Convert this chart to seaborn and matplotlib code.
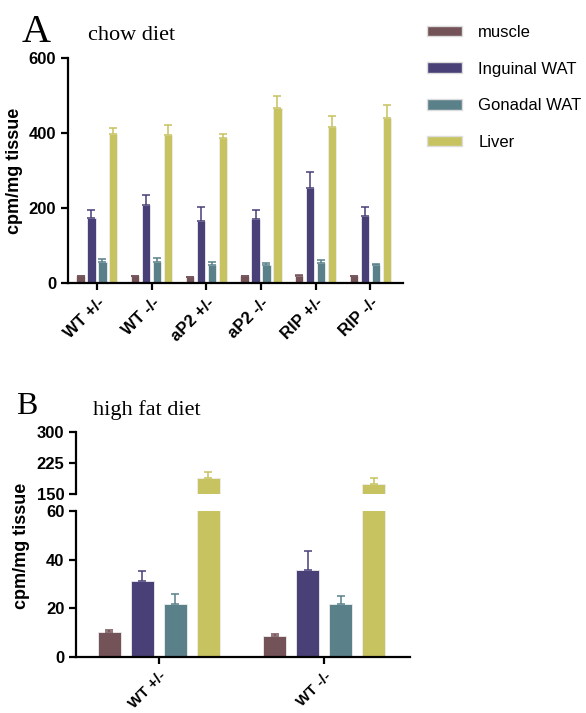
import numpy as np
import pandas as pd
import matplotlib.pyplot as plt
import seaborn as sns
from matplotlib.patches import Patch

# данные
tissues = ["muscle", "Inguinal WAT", "Gonadal WAT", "Liver"]
colors = ["#735258", "#4a4078", "#5a808a", "#c7c360"]

chow_groups = ["WT +/-", "WT -/-", "aP2 +/-", "aP2 -/-", "RIP +/-", "RIP -/-"]
chow_muscle = [18, 18, 16, 19, 20, 19]
chow_muscle_err = [1, 1, 1, 1, 1.5, 1]
chow_inguinal = [173, 209, 164, 171, 253, 178]
chow_inguinal_err = [22, 26, 39, 24, 43, 25]
chow_gonadal = [56, 57, 47, 47, 53, 47]
chow_gonadal_err = [8, 10, 8, 6, 8, 4]
chow_liver = [397, 393, 386, 465, 415, 440]
chow_liver_err = [16, 27, 12, 32, 29, 33]

hfd_groups = ["WT +/-", "WT -/-"]
hfd_muscle = [10.4, 8.8]
hfd_muscle_err = [0.9, 0.8]
hfd_inguinal = [31.2, 35.9]
hfd_inguinal_err = [4.3, 7.6]
hfd_gonadal = [21.9, 21.9]
hfd_gonadal_err = [3.9, 3.2]
hfd_liver = [190, 175]
hfd_liver_err = [13, 14]


def make_df(groups, vals, errs):
    rows = []
    for t, v_list, e_list in zip(tissues, vals, errs):
        for g, v, e in zip(groups, v_list, e_list):
            rows.append({"group": g, "tissue": t, "value": v, "err": e})
    return pd.DataFrame(rows)


chow_df = make_df(chow_groups,
                  [chow_muscle, chow_inguinal, chow_gonadal, chow_liver],
                  [chow_muscle_err, chow_inguinal_err, chow_gonadal_err, chow_liver_err])
hfd_df = make_df(hfd_groups,
                 [hfd_muscle, hfd_inguinal, hfd_gonadal, hfd_liver],
                 [hfd_muscle_err, hfd_inguinal_err, hfd_gonadal_err, hfd_liver_err])

sns.set_style("ticks")
plt.rcParams["font.family"] = ["Liberation Sans", "DejaVu Sans"]
plt.rcParams["axes.linewidth"] = 1.6
plt.rcParams["text.color"] = "black"
plt.rcParams["axes.labelcolor"] = "black"
plt.rcParams["xtick.color"] = "black"
plt.rcParams["ytick.color"] = "black"
plt.rcParams["axes.edgecolor"] = "black"


def bars(ax, df, gap):
    sns.barplot(data=df, x="group", y="value", hue="tissue", hue_order=tissues,
                palette=colors, saturation=1, errorbar=None, width=0.8, gap=gap,
                ax=ax, legend=False, edgecolor="#eeeeee", linewidth=0.6)
    # усы ошибок только вверх
    for cont, t, c in zip(ax.containers, tissues, colors):
        sub = df[df["tissue"] == t]
        xs = [p.get_x() + p.get_width() / 2 for p in cont.patches]
        hs = [p.get_height() for p in cont.patches]
        err = sub["err"].values
        ax.errorbar(xs, hs, yerr=[np.zeros(len(err)), err], fmt="none",
                    ecolor=c, alpha=0.85, elinewidth=1.3, capsize=3, capthick=1.3)


def style(ax):
    sns.despine(ax=ax)
    ax.tick_params(axis="both", length=5, width=1.6, labelsize=12)
    for lab in ax.get_yticklabels() + ax.get_xticklabels():
        lab.set_fontweight("bold")
    ax.set_xlabel("")


fig = plt.figure(figsize=(5.86, 7.13), dpi=100)

# панель A
axA = fig.add_axes([0.116, 0.603, 0.572, 0.316])
bars(axA, chow_df, 0.25)
axA.set_ylim(0, 600)
axA.set_yticks([0, 200, 400, 600])
axA.set_xlim(-0.53, 5.6)
axA.set_ylabel("cpm/mg tissue", fontsize=13, fontweight="bold")
style(axA)
plt.setp(axA.get_xticklabels(), rotation=45, ha="right", rotation_mode="anchor")

# панель B с разрывом оси
axBt = fig.add_axes([0.130, 0.307, 0.570, 0.087])
axBb = fig.add_axes([0.130, 0.0785, 0.570, 0.2045])
for ax in (axBt, axBb):
    bars(ax, hfd_df, 0.3)
    ax.set_xlim(-0.5, 1.52)
    style(ax)
axBt.set_ylim(150, 300)
axBt.set_yticks([150, 225, 300])
axBt.spines["bottom"].set_visible(False)
axBt.tick_params(axis="x", bottom=False, labelbottom=False)
axBt.set_ylabel("")
axBb.set_ylim(0, 60)
axBb.set_yticks([0, 20, 40, 60])
axBb.set_ylabel("")
axBb.tick_params(axis="x", labelsize=11)
plt.setp(axBb.get_xticklabels(), rotation=45, ha="right", rotation_mode="anchor")
fig.text(0.037, 0.234, "cpm/mg tissue", rotation=90, fontsize=13,
         fontweight="bold", va="center", ha="center")

# подписи панелей
serif = ["Liberation Serif", "DejaVu Serif"]
fig.text(0.0375, 0.941, "A", fontsize=29, family=serif)
fig.text(0.150, 0.944, "chow diet", fontsize=16, family=serif)
fig.text(0.027, 0.419, "B", fontsize=23, family=serif)
fig.text(0.159, 0.418, "high fat diet", fontsize=16, family=serif)

# легенда
handles = [Patch(facecolor=c, edgecolor="#dddddd", label=t) for t, c in zip(tissues, colors)]
fig.legend(handles=handles, loc="upper left", bbox_to_anchor=(0.728, 0.965),
           frameon=False, fontsize=12, handlelength=2.1, handleheight=0.6,
           handletextpad=1.0, labelspacing=1.3, borderpad=0, borderaxespad=0)

fig.savefig("out.png", dpi=100)
